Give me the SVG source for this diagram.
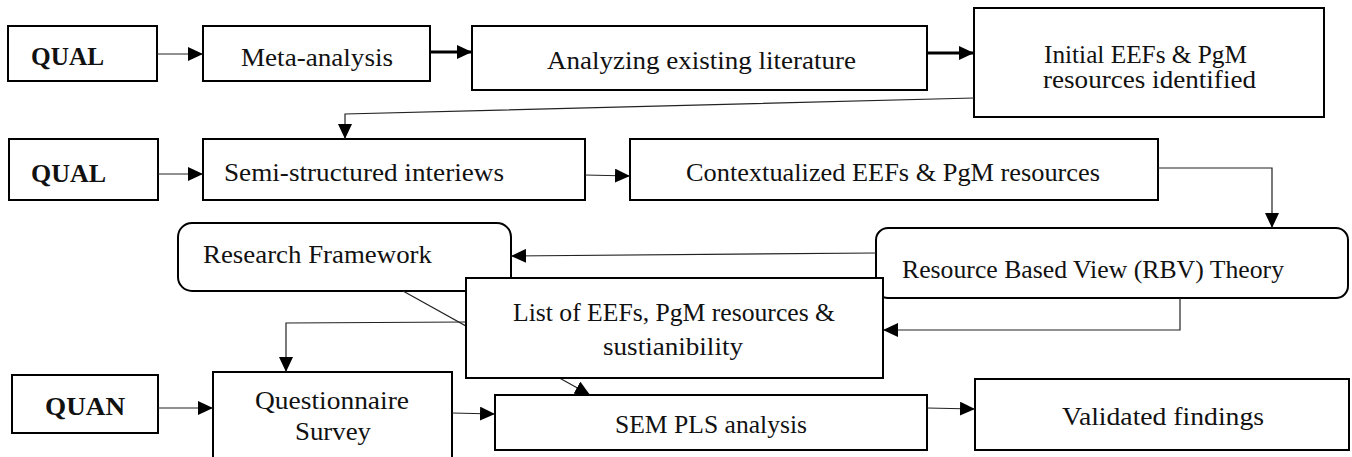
<svg xmlns="http://www.w3.org/2000/svg" width="1352" height="457" viewBox="0 0 1352 457">
<style>
.box{fill:#fff;stroke:#000;stroke-width:2}
.t{font-family:"Liberation Serif","Times New Roman",serif;font-size:25px;fill:#111}
.b{font-weight:bold}
.c{fill:none;stroke:#222;stroke-width:1.2}
.k{fill:none;stroke:#000;stroke-width:3}
</style>
<defs>
<marker id="ah" markerUnits="userSpaceOnUse" markerWidth="16" markerHeight="14" refX="15" refY="7" orient="auto">
<path d="M0,0 L15,7 L0,14 z" fill="#000"/>
</marker>
</defs>
<rect width="1352" height="457" fill="#fff"/>
<g id="nodes">
<g id="qual1"><rect class="box" x="8" y="26" width="149" height="55"/><text class="t b" x="31" y="65" textLength="73" lengthAdjust="spacingAndGlyphs">QUAL</text></g>
<g id="meta"><rect class="box" x="203" y="26" width="227" height="55"/><text class="t" x="241" y="66" textLength="152" lengthAdjust="spacingAndGlyphs">Meta-analysis</text></g>
<g id="analyzing"><rect class="box" x="472" y="26" width="455" height="64"/><text class="t" x="547" y="69" textLength="309" lengthAdjust="spacingAndGlyphs">Analyzing existing literature</text></g>
<g id="initial"><rect class="box" x="974" y="8" width="350" height="109"/><text class="t" x="1044" y="63" textLength="203" lengthAdjust="spacingAndGlyphs">Initial EEFs &amp; PgM</text><text class="t" x="1043" y="88" textLength="213" lengthAdjust="spacingAndGlyphs">resources identified</text></g>
<g id="qual2"><rect class="box" x="9" y="139" width="149" height="61"/><text class="t b" x="31" y="182" textLength="75" lengthAdjust="spacingAndGlyphs">QUAL</text></g>
<g id="semi"><rect class="box" x="203" y="139" width="382" height="61"/><text class="t" x="224" y="181" textLength="280" lengthAdjust="spacingAndGlyphs">Semi-structured interiews</text></g>
<g id="context"><rect class="box" x="630" y="139" width="528" height="61"/><text class="t" x="686" y="181" textLength="414" lengthAdjust="spacingAndGlyphs">Contextualized EEFs &amp; PgM resources</text></g>
<g id="research"><rect class="box" x="178" y="223" width="333" height="68" rx="14"/><text class="t" x="203" y="263" textLength="229" lengthAdjust="spacingAndGlyphs">Research Framework</text></g>
<g id="rbv"><rect class="box" x="876" y="228" width="472" height="70" rx="12"/><text class="t" x="902" y="278" textLength="382" lengthAdjust="spacingAndGlyphs">Resource Based View (RBV) Theory</text></g>
<g id="quan"><rect class="box" x="12" y="375" width="146" height="58"/><text class="t b" x="45" y="415" textLength="80" lengthAdjust="spacingAndGlyphs">QUAN</text></g>
<g id="questionnaire"><rect class="box" x="213" y="372" width="239" height="100"/><text class="t" x="255" y="409" textLength="154" lengthAdjust="spacingAndGlyphs">Questionnaire</text><text class="t" x="295" y="440" textLength="76" lengthAdjust="spacingAndGlyphs">Survey</text></g>
<g id="sem"><rect class="box" x="495" y="395" width="432" height="55"/><text class="t" x="615" y="433" textLength="192" lengthAdjust="spacingAndGlyphs">SEM PLS analysis</text></g>
<g id="validated"><rect class="box" x="975" y="379" width="374" height="71"/><text class="t" x="1062" y="425" textLength="202" lengthAdjust="spacingAndGlyphs">Validated findings</text></g>
</g>
<g id="connectors">
<path class="c" d="M157,54 L203,54" marker-end="url(#ah)"/>
<path class="k" d="M430,52 L472,52" marker-end="url(#ah)"/>
<path class="k" d="M927,53 L974,53" marker-end="url(#ah)"/>
<path class="c" d="M974,98 L345,114 L345,139" marker-end="url(#ah)"/>
<path class="c" d="M158,174 L203,174" marker-end="url(#ah)"/>
<path class="c" d="M585,175 L630,176" marker-end="url(#ah)"/>
<path class="c" d="M1158,168 L1272,168 L1272,228" marker-end="url(#ah)"/>
<path class="c" d="M876,253 L511,256" marker-end="url(#ah)"/>
<path class="c" d="M1180,298 L1180,330 L883,330" marker-end="url(#ah)"/>
<path class="c" d="M403,291 L590,395" marker-end="url(#ah)"/>
<path class="c" d="M466,322 L286,323 L286,372" marker-end="url(#ah)"/>
<path class="c" d="M158,408 L213,408" marker-end="url(#ah)"/>
<path class="c" d="M452,413 L495,414" marker-end="url(#ah)"/>
<path class="c" d="M927,408 L975,409" marker-end="url(#ah)"/>
</g>
<g id="list"><rect class="box" x="466" y="278" width="417" height="100"/><text class="t" x="513" y="321" textLength="322" lengthAdjust="spacingAndGlyphs">List of EEFs, PgM resources &amp;</text><text class="t" x="603" y="355" textLength="140" lengthAdjust="spacingAndGlyphs">sustianibility</text></g>
</svg>
